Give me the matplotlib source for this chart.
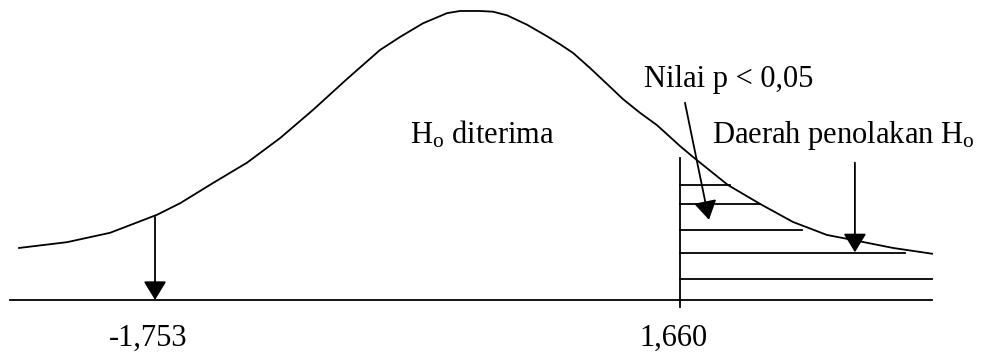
import matplotlib
matplotlib.use("Agg")
import matplotlib.pyplot as plt

plt.rcParams['font.family'] = ['Liberation Serif', 'DejaVu Serif']
plt.rcParams['mathtext.fontset'] = 'custom'
plt.rcParams['mathtext.rm'] = 'Liberation Serif'
plt.rcParams['mathtext.it'] = 'Liberation Serif:italic'

# Curve (x in t units, y in density-like units)
curve_x = [-2.637, -2.325, -2.045, -1.739, -1.589, -1.375, -1.155, -0.940, -0.726,
           -0.504, -0.290, -0.160, -0.010, 0.146, 0.230, 0.360, 0.445, 0.536,
           0.666, 0.796, 0.880, 0.965, 1.076, 1.186, 1.290, 1.401, 1.511, 1.661,
           1.745, 1.973, 2.181, 2.395, 2.616, 2.786, 3.046, 3.300]
curve_y = [0.072, 0.080, 0.093, 0.118, 0.134, 0.162, 0.190, 0.224, 0.263,
           0.306, 0.346, 0.364, 0.383, 0.397, 0.400, 0.400, 0.399, 0.394,
           0.381, 0.365, 0.354, 0.342, 0.321, 0.299, 0.278, 0.259, 0.242, 0.213,
           0.198, 0.159, 0.133, 0.108, 0.090, 0.083, 0.072, 0.064]

# Critical values
crit_values = [-1.753, 1.660]
crit_labels = ["-1,753", "1,660"]

# Hatch lines in rejection region (levels and right ends)
hatch_levels = [0.159, 0.133, 0.097, 0.065, 0.029]
hatch_ends = [1.986, 2.181, 2.454, 3.123, 3.300]

baseline_x = [-2.696, 3.300]

fig = plt.figure(figsize=(9.95, 3.53), dpi=100)
ax = fig.add_axes([0, 0, 1, 1])
ax.set_xlim(-2.761, 3.709)
ax.set_ylim(-0.0734, 0.4152)
ax.axis('off')

lw = 1.3
ax.plot(curve_x, curve_y, color='black', lw=lw, solid_joinstyle='round')
ax.plot(baseline_x, [0, 0], color='black', lw=lw)

# vertical line at critical value
ax.plot([crit_values[1], crit_values[1]], [-0.0097, 0.1965], color='black', lw=lw)

for lev, end in zip(hatch_levels, hatch_ends):
    ax.plot([crit_values[1], end], [lev, lev], color='black', lw=lw)

astyle = '-|>,head_length=1.15,head_width=0.7'

def arrow(x0, y0, x1, y1):
    ax.annotate('', xy=(x1, y1), xytext=(x0, y0),
                arrowprops=dict(arrowstyle=astyle, color='black', lw=lw,
                                shrinkA=0, shrinkB=0, mutation_scale=10))

arrow(crit_values[0], 0.115, crit_values[0], 0.0)
arrow(1.693, 0.273, 1.849, 0.111)
arrow(2.798, 0.190, 2.798, 0.066)

fs = 22
ax.text(-0.095, 0.217, r'H$_{\mathrm{o}}$ diterima', fontsize=fs, ha='left', va='baseline')
ax.text(1.426, 0.295, 'Nilai p < 0,05', fontsize=fs, ha='left', va='baseline')
ax.text(1.869, 0.217, r'Daerah penolakan H$_{\mathrm{o}}$', fontsize=fs, ha='left', va='baseline')

offsets = [-7, -6]
for v, lab, off in zip(crit_values, crit_labels, offsets):
    ax.annotate(lab, xy=(v, -0.063), xytext=(off, 0), textcoords='offset pixels',
                fontsize=fs, ha='center', va='baseline')

fig.savefig('out.png', dpi=100)
